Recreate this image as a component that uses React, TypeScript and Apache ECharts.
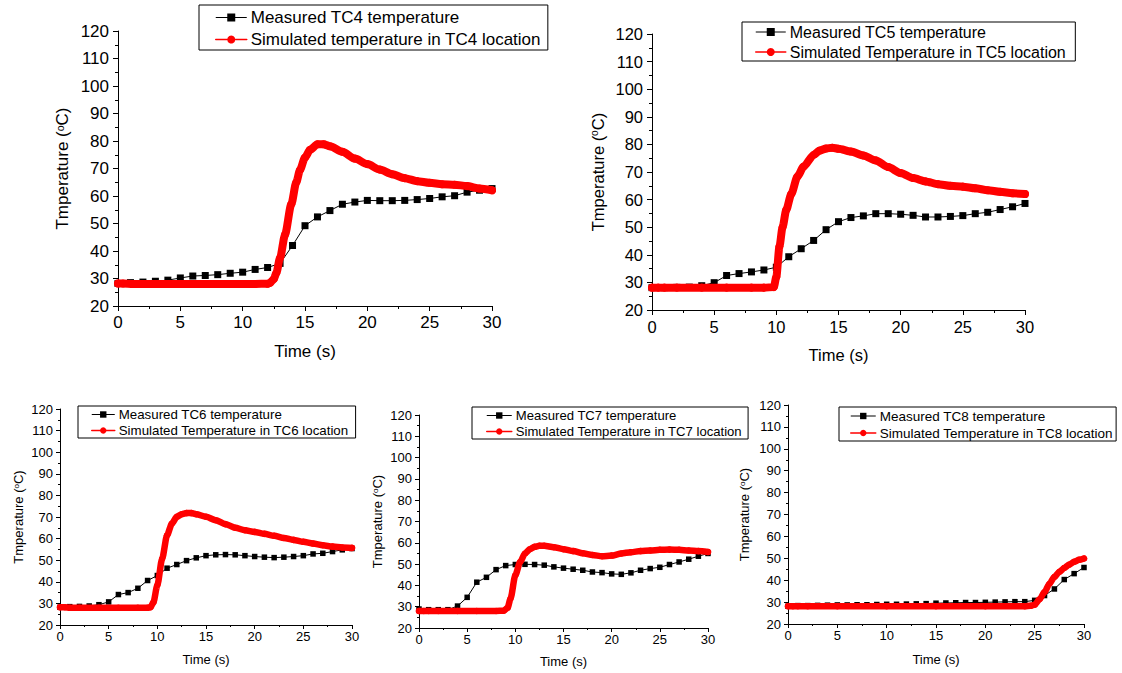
import React, { useEffect, useRef } from 'react';
import * as echarts from 'echarts';

// ---------- DATA ----------
const measuredTime = [0, 1, 2, 3, 4, 5, 6, 7, 8, 9, 10, 11, 12, 13, 14, 15, 16, 17, 18, 19, 20, 21, 22, 23, 24, 25, 26, 27, 28, 29, 30];

const measuredTC4 = [28.2, 28.5, 28.7, 29.0, 29.4, 30.2, 30.9, 31.1, 31.4, 31.9, 32.3, 33.3, 34.0, 35.5, 42.0, 49.2, 52.4, 54.7, 57.0, 57.8, 58.4, 58.3, 58.3, 58.4, 58.7, 59.1, 59.7, 60.1, 61.4, 62.1, 62.7];
const simTimeTC4 = [0, 0.4, 1.2, 2, 4, 6, 8, 10, 11, 12, 12.2, 12.5, 12.7, 13.0, 13.4, 13.9, 14.3, 14.6, 15.0, 15.4, 16, 16.5, 17, 18, 19, 20, 21, 22, 23, 24, 25, 26, 27, 28, 29, 30];
const simTempTC4 = [28.2, 28.2, 28.0, 28.0, 28.0, 28.0, 28.0, 28.0, 28.0, 28.1, 28.4, 29.8, 32.0, 37.5, 46.0, 57.0, 65.0, 69.5, 74.0, 76.8, 78.8, 78.8, 78.1, 76.1, 73.6, 71.6, 69.6, 67.9, 66.5, 65.4, 64.8, 64.3, 64.1, 63.6, 62.7, 62.1];

const measuredTC5 = [28.1, 28.1, 28.2, 28.3, 28.8, 29.9, 32.5, 33.2, 33.8, 34.5, 35.5, 39.3, 42.2, 45.2, 49.1, 52.0, 53.5, 54.1, 54.9, 54.9, 54.7, 54.3, 53.7, 53.7, 53.9, 54.2, 54.9, 55.4, 56.4, 57.4, 58.6];
const simTimeTC5 = [0, 0.5, 1, 2, 4, 6, 8, 9, 9.8, 10.0, 10.25, 10.5, 10.8, 11.2, 11.7, 12.2, 13, 13.5, 14, 14.5, 15, 16, 17, 18, 19, 20, 21, 22, 23, 24, 25, 26, 27, 28, 29, 30];
const simTempTC5 = [28.1, 28.1, 28.1, 28.1, 28.1, 28.1, 28.1, 28.1, 28.3, 32.0, 43.0, 50.0, 56.3, 62.0, 68.4, 72.0, 76.2, 77.8, 78.5, 78.8, 78.4, 77.4, 76.0, 74.2, 71.8, 69.6, 67.8, 66.6, 65.6, 65.0, 64.7, 64.1, 63.4, 62.8, 62.3, 62.0];

const measuredTC6 = [28.2, 28.5, 28.6, 28.8, 29.4, 30.7, 34.1, 35.0, 37.0, 40.6, 42.9, 46.3, 48.0, 49.8, 51.1, 52.1, 52.5, 52.6, 52.5, 52.1, 51.7, 51.4, 51.2, 51.4, 51.7, 52.1, 52.9, 53.2, 54.0, 54.8, 55.4];
const simTimeTC6 = [0, 0.5, 1, 2, 4, 6, 8, 9, 9.3, 9.6, 10, 10.5, 11, 11.5, 12, 12.5, 13, 13.5, 14, 15, 16, 17, 18, 19, 20, 21, 22, 23, 24, 25, 26, 27, 28, 29, 30];
const simTempTC6 = [28.2, 28.2, 28.0, 28.0, 28.0, 28.0, 28.0, 28.0, 28.2, 30.5, 38.4, 50.8, 61.6, 67.0, 70.1, 71.3, 71.8, 71.8, 71.3, 70.1, 68.5, 66.7, 65.0, 63.9, 63.1, 62.2, 61.3, 60.3, 59.4, 58.5, 57.7, 56.9, 56.3, 55.9, 55.7];

const measuredTC7 = [28.9, 28.6, 28.6, 28.6, 30.3, 34.4, 41.5, 43.8, 47.4, 49.3, 49.8, 49.9, 49.8, 49.5, 48.7, 48.1, 47.6, 47.1, 46.3, 46.0, 45.4, 45.2, 45.9, 47.1, 47.9, 48.5, 49.8, 51.0, 52.3, 53.7, 55.0];
const simTimeTC7 = [0, 0.5, 1, 2, 4, 6, 8, 8.8, 9.2, 9.5, 10, 10.5, 11, 11.5, 12, 12.5, 13, 14, 15, 16, 17, 18, 19, 20, 21, 22, 23, 24, 25, 26, 27, 28, 29, 30];
const simTempTC7 = [28.0, 28.0, 28.0, 28.0, 28.0, 28.0, 28.0, 28.1, 29.5, 33.8, 44.8, 51.0, 55.0, 57.0, 58.1, 58.6, 58.6, 57.9, 57.0, 56.1, 55.1, 54.3, 53.7, 54.0, 55.0, 55.6, 56.1, 56.4, 56.7, 56.8, 56.7, 56.4, 56.1, 55.7];

const measuredTC8 = [28.1, 28.4, 28.4, 28.5, 28.6, 28.7, 28.7, 28.8, 28.8, 28.9, 29.0, 29.0, 29.1, 29.2, 29.3, 29.5, 29.6, 29.7, 29.8, 29.8, 29.9, 30.0, 30.1, 30.2, 30.2, 30.8, 33.0, 36.0, 40.3, 43.0, 45.8];
const simTimeTC8 = [0, 0.5, 1, 2, 5, 10, 15, 20, 24, 24.6, 25, 25.5, 26, 26.5, 27, 27.5, 28, 28.5, 29, 29.5, 30];
const simTempTC8 = [28.1, 28.1, 28.1, 28.1, 28.1, 28.1, 28.1, 28.1, 28.1, 28.3, 28.8, 31.3, 34.6, 38.4, 41.5, 43.8, 45.6, 47.1, 48.4, 49.3, 49.9];

const measuredNames = [
  'Measured TC4 temperature',
  'Measured TC5 temperature',
  'Measured TC6 temperature',
  'Measured TC7 temperature',
  'Measured TC8 temperature',
];
const simulatedNames = [
  'Simulated temperature in TC4 location',
  'Simulated Temperature in TC5 location',
  'Simulated Temperature in TC6 location',
  'Simulated Temperature in TC7 location',
  'Simulated Temperature in TC8 location',
];
const xAxisTitle = 'Time (s)';
const yAxisTitleParts = ['Tmperature (', 'o', 'C)'];

const measuredSets = [measuredTC4, measuredTC5, measuredTC6, measuredTC7, measuredTC8];
const simTimeSets = [simTimeTC4, simTimeTC5, simTimeTC6, simTimeTC7, simTimeTC8];
const simTempSets = [simTempTC4, simTempTC5, simTempTC6, simTempTC7, simTempTC8];

// ---------- LAYOUT ----------
const FONT = '"Liberation Sans", Arial, Helvetica, sans-serif';

const panels = [
  { grid: { left: 118, top: 31, width: 374, height: 275 }, fs: 17, fsLegend: 17, legend: { left: 199, top: 5, padding: [4, 7, 2, 16], itemWidth: 31, itemHeight: 10, itemGap: 5 }, nameGapY: 47, nameGapX: 37, tick: 5, minor: 3, marginY: 9, marginX: 8, sq: 7, lw: 8 },
  { grid: { left: 652, top: 34, width: 373, height: 276 }, fs: 16.5, fsLegend: 16, legend: { left: 742, top: 22, padding: [2, 9, 1, 13], itemWidth: 30, itemHeight: 10, itemGap: 4 }, nameGapY: 46, nameGapX: 36, tick: 5, minor: 3, marginY: 9, marginX: 8, sq: 7, lw: 8 },
  { grid: { left: 60, top: 409, width: 292, height: 216 }, fs: 13, fsLegend: 13.3, legend: { left: 78, top: 406, padding: [2, 7, 1, 13], itemWidth: 23, itemHeight: 8, itemGap: 3 }, nameGapY: 35, nameGapX: 28, tick: 4, minor: 2, marginY: 7, marginX: 5, sq: 5.5, lw: 6.5 },
  { grid: { left: 419, top: 415, width: 289, height: 213 }, fs: 13, fsLegend: 13.1, legend: { left: 472, top: 407, padding: [2, 6, 1, 14], itemWidth: 25, itemHeight: 8, itemGap: 3 }, nameGapY: 35, nameGapX: 27, tick: 4, minor: 2, marginY: 7, marginX: 5, sq: 5.5, lw: 6.5 },
  { grid: { left: 788, top: 405, width: 296, height: 219 }, fs: 13, fsLegend: 13.5, legend: { left: 839, top: 407, padding: [2, 3, 1, 11], itemWidth: 25, itemHeight: 8, itemGap: 3 }, nameGapY: 37, nameGapX: 29, tick: 4, minor: 2, marginY: 7, marginX: 5, sq: 5.5, lw: 6.5 },
];

function buildOption() {
  const grid: any[] = [];
  const xAxis: any[] = [];
  const yAxis: any[] = [];
  const legend: any[] = [];
  const series: any[] = [];

  panels.forEach((p, i) => {
    grid.push({ ...p.grid, containLabel: false });
    const axisCommon = {
      axisLine: { show: true, onZero: false, lineStyle: { color: '#000', width: 1 } },
      axisTick: { show: true, length: p.tick, lineStyle: { color: '#000', width: 1 } },
      minorTick: { show: true, splitNumber: 2, length: p.minor, lineStyle: { color: '#000', width: 1 } },
      splitLine: { show: false },
      axisLabel: { color: '#000', fontSize: p.fs, fontFamily: FONT },
    };
    xAxis.push({
      type: 'value',
      gridIndex: i,
      min: 0,
      max: 30,
      interval: 5,
      ...axisCommon,
      axisLabel: { ...axisCommon.axisLabel, margin: p.marginX },
      name: xAxisTitle,
      nameLocation: 'middle',
      nameGap: p.nameGapX,
      nameTextStyle: { color: '#000', fontSize: p.fs, fontFamily: FONT },
    });
    yAxis.push({
      type: 'value',
      gridIndex: i,
      min: 20,
      max: 120,
      interval: 10,
      ...axisCommon,
      axisLabel: { ...axisCommon.axisLabel, margin: p.marginY },
      name: `{a|${yAxisTitleParts[0]}}{b|${yAxisTitleParts[1]}}{a|${yAxisTitleParts[2]}}`,
      nameLocation: 'middle',
      nameGap: p.nameGapY,
      nameTextStyle: {
        color: '#000',
        fontSize: p.fs,
        fontFamily: FONT,
        rich: {
          a: { color: '#000', fontSize: p.fs, fontFamily: FONT },
          b: { color: '#000', fontSize: p.fs * 0.62, fontFamily: FONT, verticalAlign: 'top' },
        },
      },
    });
    legend.push({
      orient: 'vertical',
      left: p.legend.left,
      top: p.legend.top,
      padding: p.legend.padding,
      itemWidth: p.legend.itemWidth,
      itemHeight: p.legend.itemHeight,
      itemGap: p.legend.itemGap,
      borderColor: '#000',
      borderWidth: 1,
      backgroundColor: '#fff',
      selectedMode: false,
      textStyle: { color: '#000', fontSize: p.fsLegend, fontFamily: FONT, padding: [0, 0, 0, -1] },
      data: [
        { name: measuredNames[i], lineStyle: { width: 1, color: '#000' } },
        { name: simulatedNames[i], lineStyle: { width: 1.5, color: '#ff0000' } },
      ],
    });
    series.push({
      type: 'line',
      name: measuredNames[i],
      xAxisIndex: i,
      yAxisIndex: i,
      data: measuredTime.map((t, k) => [t, measuredSets[i][k]]),
      symbol: 'rect',
      symbolSize: p.sq,
      showSymbol: true,
      lineStyle: { color: '#000', width: 1 },
      itemStyle: { color: '#000' },
      z: 3,
    });
    series.push({
      type: 'line',
      name: simulatedNames[i],
      xAxisIndex: i,
      yAxisIndex: i,
      data: simTimeSets[i].map((t, k) => [t, simTempSets[i][k]]),
      symbol: 'circle',
      symbolSize: p.lw,
      showSymbol: true,
      smooth: 0.25,
      smoothMonotone: 'x',
      lineStyle: { color: '#ff0000', width: p.lw, cap: 'round', join: 'round' },
      itemStyle: { color: '#ff0000' },
      z: 4,
    });
  });

  return {
    animation: false,
    backgroundColor: '#fff',
    textStyle: { fontFamily: FONT },
    grid,
    xAxis,
    yAxis,
    legend,
    series,
  };
}

export default function App() {
  const ref = useRef<HTMLDivElement>(null);
  useEffect(() => {
    if (!ref.current) return;
    const chart = echarts.init(ref.current, null, { renderer: 'svg' });
    chart.setOption(buildOption() as any);
    return () => chart.dispose();
  }, []);
  return (
    <div
      ref={ref}
      style={{ position: 'fixed', left: 0, top: 0, width: 1122, height: 673, background: '#fff' }}
    />
  );
}
